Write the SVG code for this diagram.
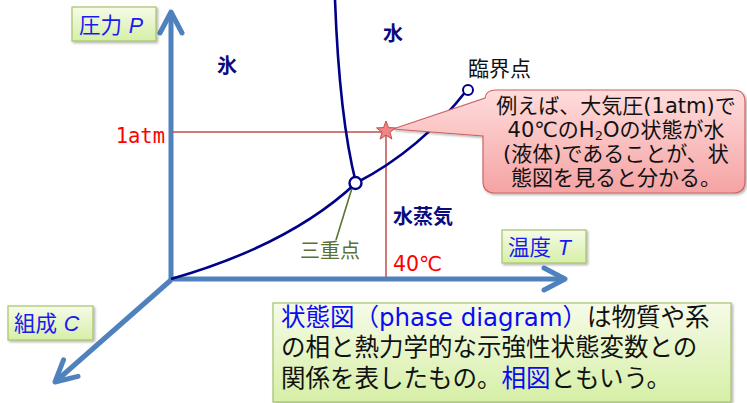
<svg xmlns="http://www.w3.org/2000/svg" width="747" height="403" viewBox="0 0 747 403">
<style>
.jp{font-family:'DejaVu Sans','Noto Sans CJK JP',sans-serif}
.lbl{fill:url(#green);stroke:#A3C36A;stroke-width:1.2;filter:url(#sh)}
.axtxt{font-size:21.5px;fill:#1A1AF0}
.it{font-family:'Liberation Sans',sans-serif;font-style:italic}
.phase{font-size:20px;font-weight:bold;fill:#0B0B80;font-family:'Noto Sans CJK JP',sans-serif}
.axis{stroke:#4F81BD;stroke-width:5;fill:none;marker-end:url(#chev)}
.curve{stroke:#000088;stroke-width:2.6;fill:none}
.red{stroke:#C0504D;stroke-width:1.5;fill:none}
.blue{fill:#0A0AF5}
.co{font-size:21px;fill:#111}
</style>
<defs>
<linearGradient id="green" x1="0" y1="0" x2="0" y2="1">
<stop offset="0" stop-color="#F6FBE8"/>
<stop offset="1" stop-color="#D6EFA6"/>
</linearGradient>
<linearGradient id="pink" x1="0" y1="0" x2="0" y2="1">
<stop offset="0" stop-color="#FFDCDC"/>
<stop offset="1" stop-color="#F5A3A3"/>
</linearGradient>
<filter id="sh" x="-10%" y="-10%" width="120%" height="130%">
<feDropShadow dx="1.5" dy="1.5" stdDeviation="1" flood-color="#000" flood-opacity="0.3"/>
</filter>
<marker id="chev" viewBox="-26 -15 30 30" markerWidth="30" markerHeight="30" refX="0" refY="0" markerUnits="userSpaceOnUse" orient="auto">
<path d="M-21,-11 L0,0 L-21,11" fill="none" stroke="#4F81BD" stroke-width="5" stroke-linecap="round" stroke-linejoin="round"/>
</marker>
</defs>

<g id="connectors">
<path class="axis" d="M171,280 L171,12"/>
<path class="axis" d="M171,279 L565,279"/>
<path class="axis" d="M171,280 L55,382"/>
<path class="red" d="M172,132 L386,132 M386,132 L386,277"/>
<path class="curve" d="M335,0 C338,80 345,140 356,183"/>
<path class="curve" d="M171,279 Q290,245 356,183"/>
<path class="curve" d="M356,183 Q420,150 467,90"/>
<path d="M352,188 L336,240" stroke="#5B7133" stroke-width="1.6" fill="none"/>
</g>

<g id="triple-point"><circle cx="355.5" cy="183" r="6" fill="#fff" stroke="#000088" stroke-width="2.4"/></g>
<g id="critical-point"><circle cx="468" cy="90" r="5" fill="#fff" stroke="#000088" stroke-width="2"/></g>

<g id="callout">
<path d="M393,129 L485,98 Q486,90 496,90 L733,90 Q745,90 745,102 L745,181 Q745,193 733,193 L495,193 Q483,193 483,181 L483,136 Z" fill="url(#pink)" stroke="#CC6464" stroke-width="1.2" filter="url(#sh)"/>
<text class="jp co" x="616" y="113" text-anchor="middle">例えば、大気圧(1atm)で</text>
<text class="jp co" x="616" y="137" text-anchor="middle">40℃のH<tspan font-size="13" dy="3">2</tspan><tspan dy="-3">Oの状態が水</tspan></text>
<text class="jp co" x="616" y="161" text-anchor="middle">(液体)であることが、状</text>
<text class="jp co" x="616" y="185" text-anchor="middle">態図を見ると分かる。</text>
</g>

<g id="star"><polygon points="386,121 388.5,127.6 395.5,127.9 390,132.3 391.9,139.1 386,135.2 380.1,139.1 382,132.3 376.5,127.9 383.5,127.6" fill="#F08585" stroke="#C0504D" stroke-width="1"/></g>

<g id="label-P">
<rect class="lbl" x="72" y="7" width="84" height="34"/>
<text class="jp axtxt" x="79" y="33">圧力 <tspan class="it">P</tspan></text>
</g>
<g id="label-C">
<rect class="lbl" x="8" y="306" width="85" height="34"/>
<text class="jp axtxt" x="14" y="331">組成 <tspan class="it">C</tspan></text>
</g>
<g id="label-T">
<rect class="lbl" x="502" y="230" width="84" height="33"/>
<text class="jp axtxt" x="508" y="255">温度 <tspan class="it">T</tspan></text>
</g>

<g id="ice"><text class="phase" x="217" y="73">氷</text></g>
<g id="water"><text class="phase" x="383" y="41">水</text></g>
<g id="vapor"><text class="phase" x="393" y="224" font-size="21">水蒸気</text></g>
<g id="critical-label"><text class="jp" x="468" y="76" font-size="21" fill="#111">臨界点</text></g>
<g id="triple-label"><text class="jp" x="300" y="258" font-size="20" fill="#5B7133">三重点</text></g>
<g id="atm-label"><text x="165" y="143" font-size="20.5" fill="#FF0000" text-anchor="end" font-family="'DejaVu Sans Mono',monospace">1atm</text></g>
<g id="temp-label"><text class="jp" x="393" y="271" font-size="20.5" fill="#FF0000">40℃</text></g>

<g id="description">
<rect class="lbl" x="273" y="303" width="458" height="99"/>
<text class="jp" font-size="24.5" fill="#111">
<tspan x="281" y="326"><tspan class="blue">状態図（phase diagram）</tspan>は物質や系</tspan>
<tspan x="281" y="356">の相と熱力学的な示強性状態変数との</tspan>
<tspan x="281" y="387">関係を表したもの。<tspan class="blue">相図</tspan>ともいう。</tspan>
</text>
</g>
</svg>
